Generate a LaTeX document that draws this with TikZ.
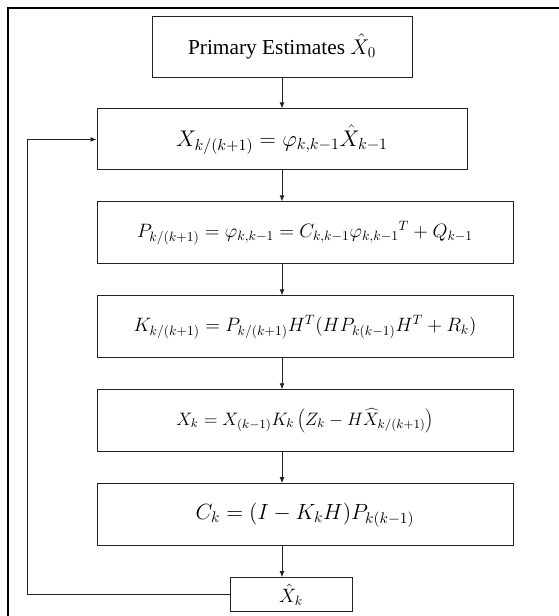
\documentclass[tikz,border=0pt]{standalone}
\usepackage{fix-cm}
\usepackage{fontspec}
\setmainfont{Liberation Serif}
\usetikzlibrary{positioning,arrows.meta}
\definecolor{Ink}{HTML}{222222}

\begin{document}
\begin{tikzpicture}[node distance=23.25pt,
  box/.style={draw=Ink, line width=0.7pt, minimum height=46.5pt, inner sep=0pt, align=center},
  flow/.style={draw=Ink, line width=0.6pt, -{Latex[length=4.5pt,width=3.6pt]}}]
\path[use as bounding box] (0,0) rectangle (418.5pt,-462pt);
\draw[line width=2pt] (6pt,-470pt) -- (6pt,-6pt) -- (425pt,-6pt);
\node[box, minimum width=195pt, minimum height=45.75pt] (a) at (211.5pt,-34.9pt) {\fontsize{16}{19}\selectfont Primary Estimates $\hat{X}_0$};
\node[box, minimum width=277.5pt, minimum height=45.75pt, below=of a] (b) {\fontsize{17}{20}\selectfont $X_{k/(k+1)} = \varphi_{k,k-1}\hat{X}_{k-1}$};
\node[box, minimum width=312pt, below=of b.south west, anchor=north west] (c) {\fontsize{14.5}{17}\selectfont $P_{k/(k+1)} = \varphi_{k,k-1} = C_{k,k-1}\varphi_{k,k-1}{}^{T} + Q_{k-1}$};
\node[box, minimum width=312pt, below=of c] (d) {\fontsize{14.5}{17}\selectfont $K_{k/(k+1)} = P_{k/(k+1)}H^{T}\bigl(HP_{k(k-1)}H^{T} + R_k\bigr)$};
\node[box, minimum width=312pt, below=of d] (e) {\fontsize{13.5}{16}\selectfont $X_k = X_{(k-1)}K_k\left(Z_k - H\widehat{X}_{k/(k+1)}\right)$};
\node[box, minimum width=312pt, below=of e] (f) {\fontsize{16.5}{20}\selectfont $C_k = (I - K_kH)P_{k(k-1)}$};
\node[box, minimum width=91.5pt, minimum height=25.5pt, below=of f.south west, anchor=north west, xshift=99.75pt] (g) {\fontsize{14.5}{17}\selectfont $\hat{X}_k$};
\coordinate[left=51.75pt of b.west] (loop);
% forward chain
\draw[flow] (a.south) -- (b.north);
\draw[flow] (b.south) -- (b.south |- c.north);
\draw[flow] (b.south |- c.south) -- (b.south |- d.north);
\draw[flow] (b.south |- d.south) -- (b.south |- e.north);
\draw[flow] (b.south |- e.south) -- (b.south |- f.north);
\draw[flow] (b.south |- f.south) -- (b.south |- g.north);
% feedback
\draw[flow] (g.west) -| (loop) -- (b.west);
\end{tikzpicture}
\end{document}
